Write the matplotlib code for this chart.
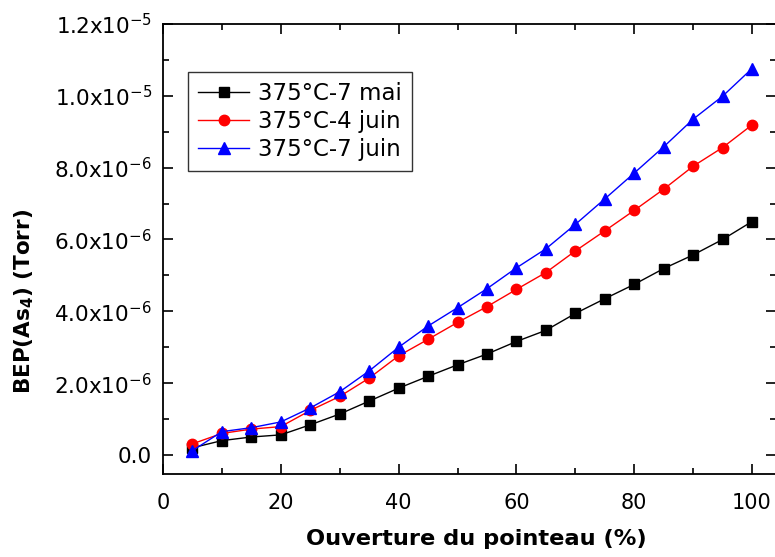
import numpy as np
import matplotlib
matplotlib.use("Agg")
import matplotlib.pyplot as plt
from matplotlib.ticker import MultipleLocator, FuncFormatter

# data
opening = [5, 10, 15, 20, 25, 30, 35, 40, 45, 50, 55, 60, 65, 70, 75, 80, 85, 90, 95, 100]
bep_7mai = [0.20, 0.40, 0.50, 0.56, 0.84, 1.14, 1.50, 1.86, 2.19, 2.51, 2.81, 3.16, 3.47, 3.94,
            4.35, 4.75, 5.19, 5.57, 6.00, 6.50]
bep_4juin = [0.31, 0.60, 0.72, 0.79, 1.24, 1.63, 2.14, 2.76, 3.22, 3.69, 4.13, 4.61, 5.08, 5.68,
             6.24, 6.81, 7.40, 8.04, 8.56, 9.19]
bep_7juin = [0.12, 0.65, 0.76, 0.92, 1.31, 1.76, 2.34, 3.00, 3.59, 4.10, 4.63, 5.21, 5.74, 6.42,
             7.13, 7.85, 8.58, 9.35, 9.99, 10.76]
labels = ["375°C-7 mai", "375°C-4 juin", "375°C-7 juin"]

plt.rcParams['font.family'] = ['DejaVu Sans']
plt.rcParams['mathtext.fontset'] = 'dejavusans'

fig = plt.figure(figsize=(7.75, 5.57), dpi=100)
ax = fig.add_axes([163/775, 1 - 474/557, 612.6/775, 450/557])

x = np.array(opening)
ax.plot(x, np.array(bep_7mai)*1e-6, '-s', color='black', lw=1, ms=6.5, label=labels[0])
ax.plot(x, np.array(bep_4juin)*1e-6, '-o', color='red', mec='red', lw=1, ms=7.5, label=labels[1])
ax.plot(x, np.array(bep_7juin)*1e-6, '-^', color='blue', lw=1, ms=9, label=labels[2])

ax.set_xlim(0, 104)
ax.set_ylim(-0.53e-6, 1.2e-5)

ax.xaxis.set_major_locator(MultipleLocator(20))
ax.xaxis.set_minor_locator(MultipleLocator(10))
ax.yaxis.set_major_locator(MultipleLocator(2e-6))
ax.yaxis.set_minor_locator(MultipleLocator(1e-6))

# labels like 1.2x10^-5
def yfmt(v, pos):
    if abs(v) < 1e-12:
        return "0.0"
    e = int(np.floor(np.log10(abs(v))))
    m = v / 10**e
    return r"%.1fx10$^{%d}$" % (m, e)

ax.yaxis.set_major_formatter(FuncFormatter(yfmt))

ax.tick_params(which='both', direction='in', top=True, right=True, labelsize=15, width=1.2)
ax.tick_params(which='major', length=7)
ax.tick_params(which='minor', length=4)
ax.tick_params(axis='x', which='major', pad=14)
ax.tick_params(axis='y', which='major', pad=8, labelsize=15.5)
for s in ax.spines.values():
    s.set_linewidth(1.3)

ax.set_xlabel("Ouverture du pointeau (%)", fontsize=16.2, fontweight='bold')
ax.xaxis.set_label_coords(0.511, -0.123)
ax.set_ylabel(r"BEP(As$_\mathbf{4}$) (Torr)", fontsize=15.5, fontweight='bold')
ax.yaxis.set_label_coords(-0.208, 0.384)

leg = ax.legend(loc='upper left', bbox_to_anchor=(0.041, 0.893), fontsize=16.5, frameon=True,
                fancybox=False, edgecolor='black', handlelength=2.2, borderpad=0.45,
                labelspacing=0.2, handletextpad=0.4, borderaxespad=0)
leg.get_frame().set_linewidth(1.0)

fig.savefig("out.png", dpi=100)
